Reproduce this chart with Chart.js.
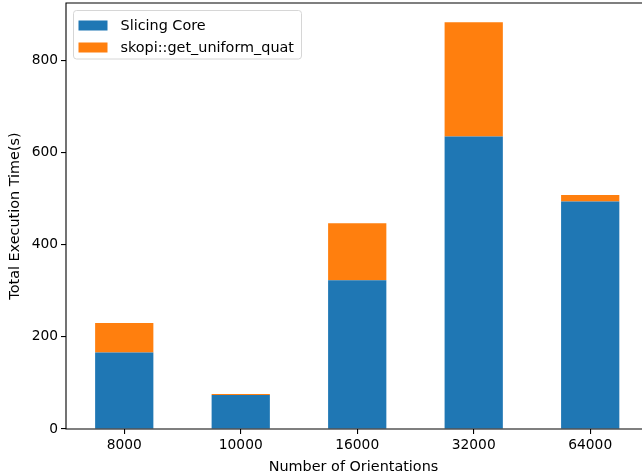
<!DOCTYPE html>
<html>
<head>
<meta charset="utf-8">
<script src="https://cdn.jsdelivr.net/npm/chart.js@4/dist/chart.umd.min.js"></script>
<style>
  html, body { margin: 0; padding: 0; background: #fff; overflow: hidden; }
</style>
</head>
<body>
<canvas id="c" width="642" height="476"></canvas>
<script>
// Number of orientations sampled
const orientations = ['8000', '10000', '16000', '32000', '64000'];
// Time spent in the slicing core (s)
const slicingCore = [166, 74, 323, 635, 494];
// Time spent in skopi::get_uniform_quat (s)
const uniformQuat = [64, 2, 124, 248, 14];
// Y axis ticks
const yTicks = [0, 200, 400, 600, 800];

const FONT = 'DejaVu Sans';
const TICK_FS = 13.8;
const TEXT_FS = 14.4;

// one bar slot per orientation count, placed at its index on the x axis
const toPoints = arr => arr.map((v, i) => ({ x: i, y: v }));

// Left, top and bottom spines plus a boxed legend in the upper-left corner
const framePlugin = {
  id: 'frame',
  afterDraw(chart) {
    const { ctx, chartArea: a, width } = chart;
    ctx.save();
    // the plot continues past the right edge, so keep that side open
    ctx.fillStyle = '#fff';
    ctx.fillRect(a.right - 4, a.top + 1, width - a.right + 4, a.bottom - a.top - 2);

    ctx.strokeStyle = '#000';
    ctx.lineWidth = 1.1;
    ctx.beginPath();
    ctx.moveTo(width + 2, a.bottom);
    ctx.lineTo(a.left, a.bottom);
    ctx.lineTo(a.left, a.top);
    ctx.lineTo(width + 2, a.top);
    ctx.stroke();

    // legend box
    const bx = a.left + 7.5, by = a.top + 7.5, bw = 228, bh = 48.5, r = 3;
    ctx.beginPath();
    ctx.moveTo(bx + r, by);
    ctx.arcTo(bx + bw, by, bx + bw, by + bh, r);
    ctx.arcTo(bx + bw, by + bh, bx, by + bh, r);
    ctx.arcTo(bx, by + bh, bx, by, r);
    ctx.arcTo(bx, by, bx + bw, by, r);
    ctx.closePath();
    ctx.fillStyle = 'rgba(255,255,255,0.8)';
    ctx.fill();
    ctx.strokeStyle = '#d6d6d6';
    ctx.lineWidth = 1;
    ctx.stroke();

    ctx.font = `${TEXT_FS}px "${FONT}"`;
    ctx.textBaseline = 'middle';
    chart.data.datasets.forEach((ds, i) => {
      const cy = by + 15 + i * 22;
      ctx.fillStyle = ds.backgroundColor;
      ctx.fillRect(bx + 5, cy - 5, 29, 10);
      ctx.fillStyle = '#000';
      ctx.fillText(ds.label, bx + 47, cy + 0.5);
    });
    ctx.restore();
  }
};

new Chart(document.getElementById('c'), {
  type: 'bar',
  data: {
    datasets: [
      { label: 'Slicing Core', data: toPoints(slicingCore), backgroundColor: '#1f77b4',
        categoryPercentage: 1.0, barPercentage: 0.5 },
      { label: 'skopi::get_uniform_quat', data: toPoints(uniformQuat), backgroundColor: '#ff7f0e',
        categoryPercentage: 1.0, barPercentage: 0.5 }
    ]
  },
  options: {
    responsive: false,
    animation: false,
    devicePixelRatio: 1,
    layout: { padding: { left: 0, right: 1, top: 3, bottom: 0 } },
    plugins: { legend: { display: false }, tooltip: { enabled: false } },
    scales: {
      x: {
        type: 'linear',
        stacked: true,
        offset: false,
        min: -0.5,
        max: 4.436,
        grid: { display: true, drawOnChartArea: false, drawTicks: true, tickLength: 5,
                color: '#000', lineWidth: 1.1, offset: false },
        border: { display: false },
        afterBuildTicks(scale) { scale.ticks = orientations.map((_, i) => ({ value: i })); },
        ticks: { color: '#000', font: { family: FONT, size: TICK_FS }, padding: 3, maxRotation: 0,
                 autoSkip: false, callback: v => orientations[v] },
        title: { display: true, text: 'Number of Orientations', color: '#000',
                 font: { family: FONT, size: TEXT_FS }, padding: { top: 2, bottom: 0 } },
        afterFit(scale) {
          scale.height = 47;
          scale.paddingLeft = 0;
          scale.paddingRight = 0;
        }
      },
      y: {
        stacked: true,
        min: 0,
        max: 925,
        grid: { display: true, drawOnChartArea: false, drawTicks: true, tickLength: 5,
                color: '#000', lineWidth: 1.1 },
        border: { display: false },
        ticks: { color: '#000', font: { family: FONT, size: TICK_FS }, padding: 3 },
        afterBuildTicks(scale) { scale.ticks = yTicks.map(v => ({ value: v })); },
        title: { display: true, text: 'Total Execution Time(s)', color: '#000',
                 font: { family: FONT, size: TEXT_FS }, padding: { top: 7, bottom: 0 } },
        afterFit(scale) {
          scale.width = 66;
          scale.paddingTop = 0;
          scale.paddingBottom = 0;
        }
      }
    }
  },
  plugins: [framePlugin]
});
</script>
</body>
</html>
